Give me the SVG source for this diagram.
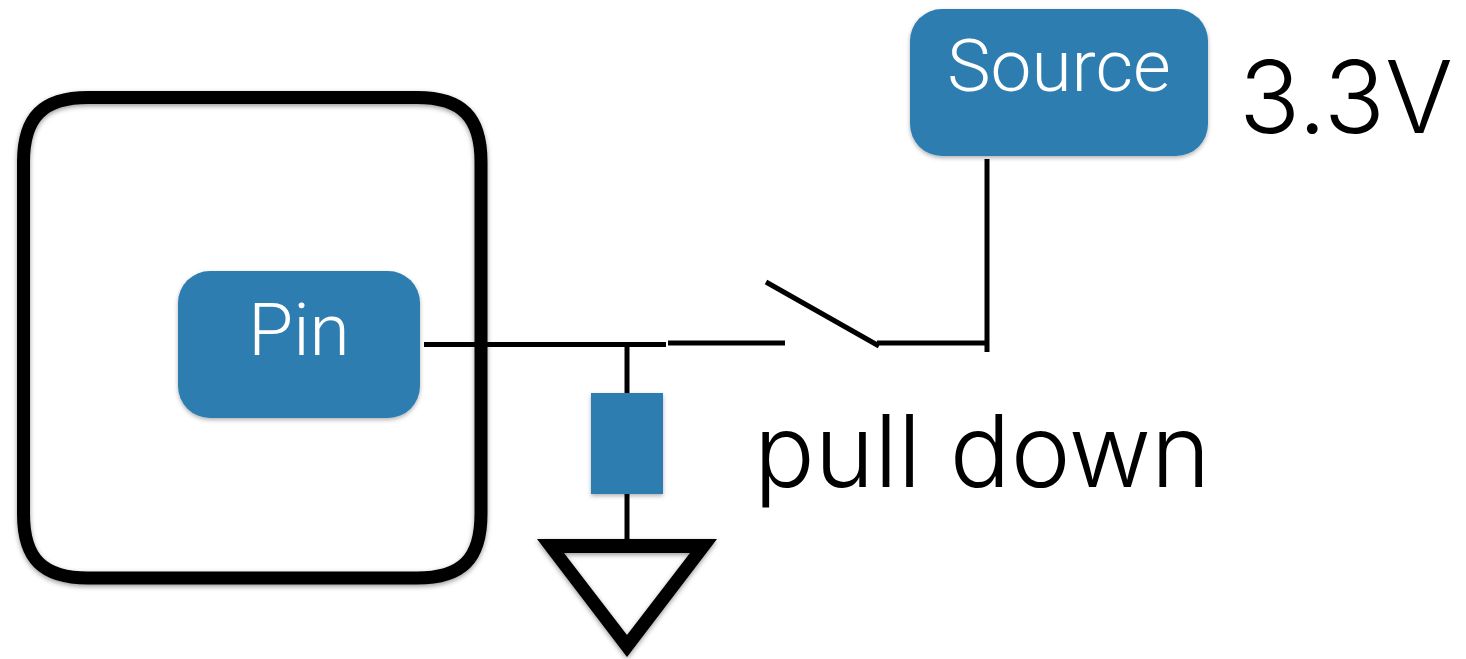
<svg xmlns="http://www.w3.org/2000/svg" width="1466" height="659" viewBox="0 0 1466 659">
<style>
.box{fill:#2f7db0;filter:url(#s)}
.sh{filter:url(#t)}
.w{stroke:#000;stroke-width:5;fill:none}
text{font-family:Roboto,"Liberation Sans",sans-serif;font-weight:300}
.l{fill:#fff;font-size:73px;text-anchor:middle}
.k{fill:#000;font-family:Inter,Roboto,sans-serif;font-size:101px}
</style>
<defs><filter id="s" x="-10%" y="-10%" width="120%" height="125%"><feDropShadow dx="0" dy="2" stdDeviation="2" flood-color="#000" flood-opacity=".3"/></filter>
<filter id="t" x="-5%" y="-5%" width="110%" height="110%"><feDropShadow dx="0" dy="2" stdDeviation="2.500" flood-color="#000" flood-opacity=".4"/></filter></defs>
<rect width="1466" height="659" fill="#fff"/>
<g id="chip" class="sh"><path d="M88 97.500H417C462 97.500 481 117 481 162V514C481 559 462 578 417 578H88C43 578 23.500 559 23.500 514V162C23.500 117 43 97.500 88 97.500Z" fill="none" stroke="#000" stroke-width="13"/></g>
<g id="connectors">
<path class="w" d="M424 344.500H666M668 343H785M766 282L879 346M877 343H988M987 159V352M627 344V393M627 494V539"/>
</g>
<g id="pin"><rect class="box" x="178" y="271" width="242" height="147" rx="32"/><text class="l" x="299" y="355">Pin</text></g>
<g id="source"><rect class="box" x="910" y="9" width="298" height="147" rx="32"/><text class="l" x="1059" y="91">Source</text></g>
<g id="resistor"><rect class="box" x="591" y="393" width="72" height="101"/></g>
<g id="ground" class="sh"><path d="M537 539H717L627 657ZM564 553L627 635L690 553Z" fill-rule="evenodd" fill="#000"/></g>
<text id="voltage" class="k" x="1239" y="133">3.3V</text>
<text id="pulldown" class="k" x="754" y="487">pull down</text>
</svg>
